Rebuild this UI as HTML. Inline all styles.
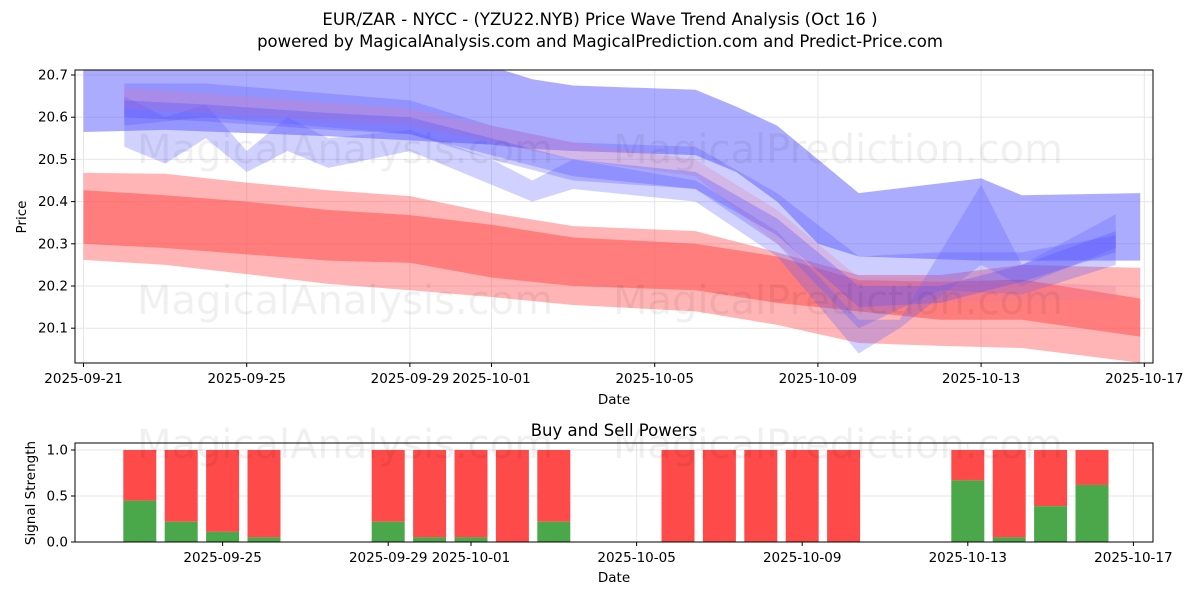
<!DOCTYPE html>
<html><head><meta charset="utf-8"><style>
body{margin:0;background:#fff;}
svg text{font-family:"DejaVu Sans","Liberation Sans",sans-serif;fill:#000;}
</style></head><body>
<svg id="c" width="1200" height="600" xmlns="http://www.w3.org/2000/svg">
<rect width="1200" height="600" fill="#fff"/>
<text x="600" y="25" font-size="16.5" text-anchor="middle">EUR/ZAR - NYCC -  (YZU22.NYB) Price Wave Trend Analysis (Oct 16 )</text>
<text x="600" y="47" font-size="16.5" text-anchor="middle">powered by MagicalAnalysis.com and MagicalPrediction.com and Predict-Price.com</text>
<g id="topPanel"></g>
<g id="botPanel"></g>
</svg>
<script>
const NS='http://www.w3.org/2000/svg';
// ---- data ----
const topTickDates=['2025-09-21','2025-09-25','2025-09-29','2025-10-01','2025-10-05','2025-10-09','2025-10-13','2025-10-17'];
const topTickDays=[0,4,8,10,14,18,22,26];
const priceTicks=[20.1,20.2,20.3,20.4,20.5,20.6,20.7];
const redOuterDays=[0,2,4,6,8,10,12,15,17,19,21,23,25.9];
const redOuterTop=[20.468,20.466,20.445,20.427,20.413,20.373,20.342,20.33,20.28,20.226,20.226,20.25,20.243];
const redOuterBot=[20.262,20.25,20.228,20.205,20.19,20.174,20.155,20.14,20.108,20.065,20.058,20.053,20.018];
const redInnerDays=[0,2,4,6,8,10,12,15,17,19,21,23,25.9];
const redInnerTop=[20.427,20.415,20.4,20.38,20.368,20.345,20.315,20.3,20.27,20.214,20.21,20.215,20.17];
const redInnerBot=[20.3,20.29,20.275,20.26,20.255,20.22,20.2,20.19,20.16,20.14,20.12,20.12,20.08];
const blueADays=[0,2,6,10,11,12,15,16,17,18,19,22,23,25.9];
const blueATop=[20.72,20.72,20.72,20.72,20.69,20.675,20.665,20.625,20.58,20.5,20.42,20.455,20.415,20.42];
const blueABot=[20.565,20.57,20.555,20.535,20.525,20.52,20.51,20.47,20.4,20.3,20.27,20.26,20.26,20.26];
const blueBDays=[1,3,8,10,12,15,17,19,21,23,25.3];
const blueBTop=[20.68,20.68,20.64,20.58,20.54,20.53,20.42,20.27,20.28,20.28,20.32];
const blueBBot=[20.58,20.6,20.56,20.5,20.45,20.43,20.3,20.1,20.19,20.18,20.25];
const blueCDays=[1,2,3,4,5,6,8,10,11,12,15,17,19,20,22,23,25.3];
const blueCTop=[20.65,20.6,20.63,20.52,20.6,20.55,20.57,20.5,20.45,20.5,20.45,20.33,20.12,20.12,20.44,20.25,20.37];
const blueCBot=[20.53,20.49,20.55,20.47,20.52,20.48,20.52,20.44,20.4,20.43,20.4,20.27,20.04,20.1,20.25,20.2,20.29];
const blueDDays=[1,3,6,8,10,12,15,17,19,21,23,25.3];
const blueDTop=[20.64,20.63,20.61,20.6,20.55,20.5,20.47,20.36,20.2,20.2,20.25,20.33];
const blueDBot=[20.6,20.59,20.57,20.56,20.51,20.46,20.43,20.32,20.15,20.16,20.21,20.28];
const pinkDays=[1,8,12,15,17,19,21,25.3];
const pinkTop=[20.67,20.62,20.54,20.5,20.38,20.22,20.22,20.2];
const pinkBot=[20.62,20.58,20.5,20.46,20.3,20.15,20.16,20.17];
const barDays=[2,3,4,5,8,9,10,11,12,15,16,17,18,19,22,23,24,25];
const buyVals=[0.45,0.22,0.11,0.05,0.22,0.05,0.05,0,0.22,0,0,0,0,0,0.67,0.05,0.39,0.62];
const botTickLabels=['2025-09-25','2025-09-29','2025-10-01','2025-10-05','2025-10-09','2025-10-13','2025-10-17'];
const botTickDays=[4,8,10,14,18,22,26];
const sigTicks=[0.0,0.5,1.0];
// ---- scales ----
const X=d=>83.5+d*40.8;
const Y=p=>75+(20.7-p)*422;
const BX=d=>57+d*41.4;
const BY=v=>542-v*92;
function el(tag,attrs,parent,txt){const e=document.createElementNS(NS,tag);for(const k in attrs)e.setAttribute(k,attrs[k]);if(txt!==undefined)e.textContent=txt;parent.appendChild(e);return e;}
const topG=document.getElementById('topPanel'), botG=document.getElementById('botPanel');
const svgRoot=document.getElementById('c');
const defs=el('defs',{},svgRoot);
const cp=el('clipPath',{id:'cl'},defs);el('rect',{x:75,y:70,width:1078,height:293},cp);
priceTicks.forEach(p=>{const l=el('line',{x1:75,x2:1153,y1:Y(p),y2:Y(p),stroke:'#e6e6e6'},topG);
});
topTickDays.forEach(d=>{const l=el('line',{x1:X(d),x2:X(d),y1:70,y2:363,stroke:'#e6e6e6'},topG);
});
[['MagicalAnalysis.com',345,163],['MagicalPrediction.com',838,163],['MagicalAnalysis.com',345,314],['MagicalPrediction.com',838,314],['MagicalAnalysis.com',345,458],['MagicalPrediction.com',838,458]].forEach(w=>{
const t=el('text',{x:w[1],y:w[2],'font-size':40,'text-anchor':'middle',style:'fill:rgba(0,0,0,0.06)'},svgRoot,w[0]);
});
const g=el('g',{'clip-path':'url(#cl)'},topG);
function band(days,up,lo,fill,name){let pts=days.map((d,i)=>X(d)+','+Y(up[i]));for(let i=days.length-1;i>=0;i--)pts.push(X(days[i])+','+Y(lo[i]));
const p=el('polygon',{points:pts.join(' '),fill:fill},g);}
band(redOuterDays,redOuterTop,redOuterBot,'rgba(255,70,70,0.4)','red-outer-band');
band(redInnerDays,redInnerTop,redInnerBot,'rgba(255,70,70,0.5)','red-inner-band');
band(blueADays,blueATop,blueABot,'rgba(90,90,255,0.5)','blue-outer-band');
band(blueCDays,blueCTop,blueCBot,'rgba(90,90,255,0.28)','blue-wave-band');
band(blueBDays,blueBTop,blueBBot,'rgba(90,90,255,0.3)','blue-mid-band');
band(pinkDays,pinkTop,pinkBot,'rgba(230,120,160,0.25)','pink-band');
band(blueDDays,blueDTop,blueDBot,'rgba(80,80,255,0.3)','blue-core-band');
el('rect',{x:75,y:70,width:1078,height:293,fill:'none',stroke:'#000','stroke-width':1},topG);
priceTicks.forEach(p=>{el('line',{x1:71,x2:75,y1:Y(p),y2:Y(p),stroke:'#000'},topG);
const t=el('text',{x:68,y:Y(p)+4.5,'font-size':13.5,'text-anchor':'end'},topG,p.toFixed(1));
});
topTickDays.forEach((d,i)=>{el('line',{x1:X(d),x2:X(d),y1:363,y2:367,stroke:'#000'},topG);
const t=el('text',{x:X(d),y:383,'font-size':13.5,'text-anchor':'middle'},topG,topTickDates[i]);
});
el('text',{x:614,y:404,'font-size':13.5,'text-anchor':'middle',},topG,'Date');
el('text',{x:0,y:0,'font-size':13.5,'text-anchor':'middle',transform:'translate(26,217) rotate(-90)',},topG,'Price');
el('text',{x:614,y:436,'font-size':16.5,'text-anchor':'middle',},botG,'Buy and Sell Powers');
sigTicks.forEach(v=>{const l=el('line',{x1:75,x2:1153,y1:BY(v),y2:BY(v),stroke:'#e6e6e6'},botG);
});
botTickDays.forEach(d=>{const l=el('line',{x1:BX(d),x2:BX(d),y1:443,y2:542,stroke:'#e6e6e6'},botG);
});
barDays.forEach((d,i)=>{const x=BX(d)-16.5;
const r=el('rect',{x:x,y:BY(1),width:33,height:BY(buyVals[i])-BY(1),fill:'#ff4a4a'},botG);

const gr=el('rect',{x:x,y:BY(buyVals[i]),width:33,height:BY(0)-BY(buyVals[i]),fill:'#4aa84a'},botG);
});
el('rect',{x:75,y:443,width:1078,height:99,fill:'none',stroke:'#000'},botG);
sigTicks.forEach(v=>{el('line',{x1:71,x2:75,y1:BY(v),y2:BY(v),stroke:'#000'},botG);
const t=el('text',{x:68,y:BY(v)+4.5,'font-size':13.5,'text-anchor':'end'},botG,v.toFixed(1));
});
botTickDays.forEach((d,i)=>{el('line',{x1:BX(d),x2:BX(d),y1:542,y2:546,stroke:'#000'},botG);
const t=el('text',{x:BX(d),y:562,'font-size':13.5,'text-anchor':'middle'},botG,botTickLabels[i]);
});
el('text',{x:614,y:582,'font-size':13.5,'text-anchor':'middle',},botG,'Date');
el('text',{x:0,y:0,'font-size':13.5,'text-anchor':'middle',transform:'translate(35,493) rotate(-90)',},botG,'Signal Strength');
</script>
</body></html>
